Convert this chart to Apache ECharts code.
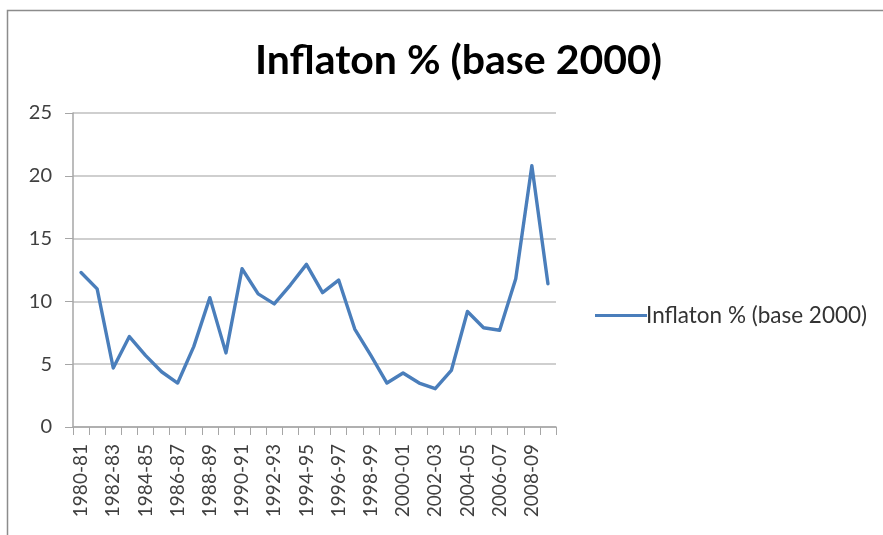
<!DOCTYPE html>
<html>
<head>
<meta charset="utf-8">
<script src="https://cdn.jsdelivr.net/npm/echarts@6/dist/echarts.min.js"></script>
<style>
  html, body { margin: 0; padding: 0; background: #ffffff; }
  #chart { width: 883px; height: 535px; }
</style>
</head>
<body>
<div id="chart"></div>
<script>
// Fiscal years shown on the category axis
const years = [
  '1980-81','1981-82','1982-83','1983-84','1984-85','1985-86','1986-87','1987-88',
  '1988-89','1989-90','1990-91','1991-92','1992-93','1993-94','1994-95','1995-96',
  '1996-97','1997-98','1998-99','1999-00','2000-01','2001-02','2002-03','2003-04',
  '2004-05','2005-06','2006-07','2007-08','2008-09','2009-10'
];

// Annual inflation rate, percent
const inflation = [
  12.3, 11.0, 4.7, 7.2, 5.7, 4.4, 3.5, 6.4, 10.3, 5.9,
  12.6, 10.6, 9.8, 11.3, 12.95, 10.7, 11.7, 7.8, 5.7, 3.5,
  4.3, 3.5, 3.05, 4.5, 9.2, 7.9, 7.7, 11.8, 20.8, 11.4
];

const seriesName = 'Inflaton % (base 2000)';
const yTicks = { min: 0, max: 25, step: 5 };

const fontFamily = 'Lato, "Open Sans", "Noto Sans", sans-serif';
const chart = echarts.init(document.getElementById('chart'), null, { renderer: 'canvas' });

chart.setOption({
  backgroundColor: '#ffffff',
  animation: false,
  title: {
    text: seriesName,
    left: 250,
    top: 35,
    textStyle: { fontFamily: fontFamily, fontWeight: 'bold', fontSize: 41, color: '#000000' }
  },
  legend: {
    data: [seriesName],
    orient: 'vertical',
    left: 590,
    top: 299,
    itemWidth: 52,
    itemHeight: 28,
    itemGap: 4,
    icon: 'path://M0,12.5 L52,12.5 L52,15.5 L0,15.5 Z',
    textStyle: { fontFamily: fontFamily, fontSize: 22.5, color: '#333333', padding: [0, 0, 0, -6] }
  },
  grid: { left: 73, right: 327, top: 113, bottom: 108 },
  xAxis: {
    type: 'category',
    data: years,
    boundaryGap: true,
    axisLine: { lineStyle: { color: '#a6a6a6', width: 1.5 } },
    axisTick: { show: true, interval: 0, length: 8, lineStyle: { color: '#a6a6a6' } },
    axisLabel: {
      interval: 1,
      rotate: 90,
      margin: 17,
      fontFamily: fontFamily,
      fontSize: 19,
      color: '#404040'
    },
    splitLine: { show: false }
  },
  yAxis: {
    type: 'value',
    min: yTicks.min,
    max: yTicks.max,
    interval: yTicks.step,
    axisLine: { show: true, lineStyle: { color: '#a6a6a6', width: 1.5 } },
    axisTick: { show: true, length: 8, lineStyle: { color: '#a6a6a6' } },
    axisLabel: { margin: 21, fontFamily: fontFamily, fontSize: 20, color: '#404040' },
    splitLine: { show: true, lineStyle: { color: '#bfbfbf', width: 1.5 } }
  },
  series: [{
    name: seriesName,
    type: 'line',
    data: inflation,
    showSymbol: false,
    symbol: 'none',
    lineStyle: { color: '#4a7ebb', width: 3.4, cap: 'round', join: 'round' },
    itemStyle: { color: '#4a7ebb' }
  }],
  graphic: [{
    type: 'rect',
    shape: { x: 7.5, y: 10.5, width: 900, height: 600 },
    style: { fill: 'none', stroke: '#8c8c8c', lineWidth: 1.5 },
    silent: true
  }]
});
</script>
</body>
</html>
